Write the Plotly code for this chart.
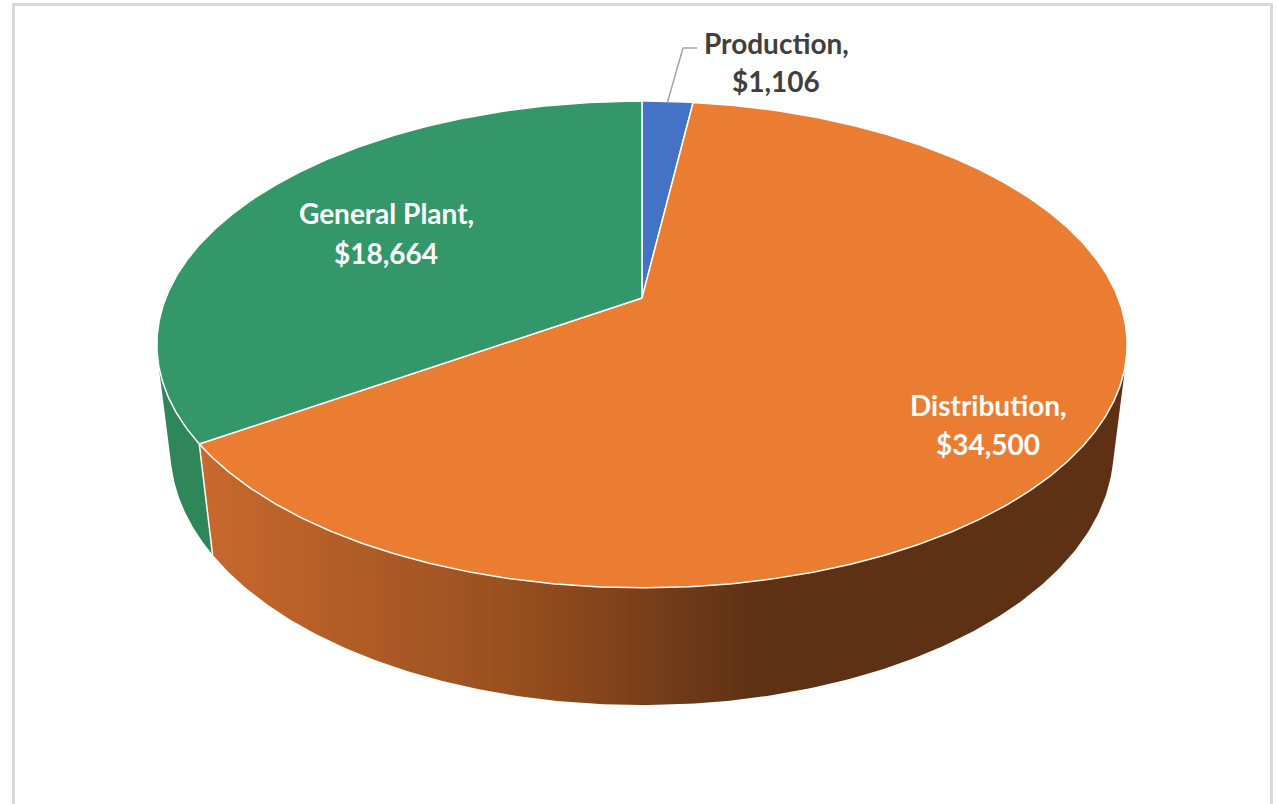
import numpy as np
import plotly.graph_objects as go

# ---- data ----
categories = ["Production", "Distribution", "General Plant"]
values = [1106, 34500, 18664]
top_colors = ["#4472C4", "#EB7D32", "#33976A"]
side_colors = ["#34589A", None, "#2E8659"]

# ---- 3D pie projection model (pixel space) ----
W, H = 1278, 804
CX, CY = 642.0, 298.0
ELEV = np.radians(29.5)
DIST = 4.557
FOC = 2170.0
THICK = 0.256


def project(theta_deg, z=0.0, r=1.0):
    t = np.radians(np.asarray(theta_deg, dtype=float))
    x = r * np.sin(t)
    y = r * np.cos(t)
    c, s = np.cos(ELEV), np.sin(ELEV)
    yc = y * s + z * c
    zc = y * c + DIST - z * s
    return CX + FOC * x / zc, CY - FOC * yc / zc


total = float(sum(values))
bounds = np.concatenate([[0.0], np.cumsum(values) / total * 360.0])

vis_lo = np.degrees(np.arccos(-1.0 / (DIST * np.cos(ELEV))))
vis_hi = 360.0 - vis_lo

fig = go.Figure()

# side walls
for i, cat in enumerate(categories):
    a0, a1 = bounds[i], bounds[i + 1]
    lo, hi = max(a0, vis_lo), min(a1, vis_hi)
    if hi <= lo:
        continue
    ang = np.linspace(lo, hi, 200)
    tx, ty = project(ang, 0.0)
    bx, by = project(ang[::-1], -THICK)
    xs = np.concatenate([tx, bx, tx[:1]])
    ys = np.concatenate([ty, by, ty[:1]])
    kw = dict(x=xs, y=ys, mode="lines", fill="toself", line=dict(width=0),
              hoverinfo="skip", showlegend=False)
    if side_colors[i] is None:
        kw["fillcolor"] = "#9A501F"
        kw["fillgradient"] = dict(
            type="horizontal",
            colorscale=[[0.0, "#C8692D"], [0.33, "#9A501F"],
                        [0.6, "#5E3114"], [1.0, "#5E3114"]],
        )
    else:
        kw["fillcolor"] = side_colors[i]
    fig.add_trace(go.Scatter(**kw))

# seams on the side wall
for b in bounds[1:-1]:
    if vis_lo < b < vis_hi:
        sx0, sy0 = project(b, 0.0)
        sx1, sy1 = project(b, -THICK)
        fig.add_trace(go.Scatter(x=[sx0, sx1], y=[sy0, sy1], mode="lines",
                                 line=dict(color="white", width=1.5),
                                 hoverinfo="skip", showlegend=False))

# top faces
for i, cat in enumerate(categories):
    a0, a1 = bounds[i], bounds[i + 1]
    n = max(int((a1 - a0) * 2), 10)
    ang = np.linspace(a0, a1, n)
    ax_, ay_ = project(ang, 0.0)
    xs = np.concatenate([[CX], ax_, [CX]])
    ys = np.concatenate([[CY], ay_, [CY]])
    fig.add_trace(go.Scatter(x=xs, y=ys, mode="lines", fill="toself",
                             fillcolor=top_colors[i],
                             line=dict(color="white", width=1.5),
                             hoverinfo="skip", showlegend=False, name=cat))

# leader line for Production
mid0 = (bounds[0] + bounds[1]) / 2
lx, ly = project(mid0, 0.0, 0.995)
fig.add_trace(go.Scatter(x=[lx, 683, 697], y=[ly, 48, 48], mode="lines",
                         line=dict(color="#A6A6A6", width=1.5),
                         hoverinfo="skip", showlegend=False))

# labels
label_pos = [
    (776, 43, 81, "#404040"),
    (988, 405, 444, "white"),
    (386, 213, 253, "white"),
]
for i, cat in enumerate(categories):
    x, y1, y2, col = label_pos[i]
    for txt, yy in ((cat + ",", y1), ("${:,}".format(values[i]), y2)):
        fig.add_annotation(x=x, y=yy, text=txt, showarrow=False,
                           xanchor="center", yanchor="middle",
                           font=dict(family="Lato", size=28, color=col, weight="bold"))

fig.add_shape(type="rect", x0=13.5, y0=4.5, x1=1271.5, y1=840,
              line=dict(color="#D9D9D9", width=3), layer="below")

fig.update_layout(
    width=W, height=H,
    margin=dict(l=0, r=0, t=0, b=0),
    paper_bgcolor="white", plot_bgcolor="white",
    xaxis=dict(range=[0, W], visible=False, fixedrange=True),
    yaxis=dict(range=[H, 0], visible=False, fixedrange=True),
)

fig.write_html("out.html")
